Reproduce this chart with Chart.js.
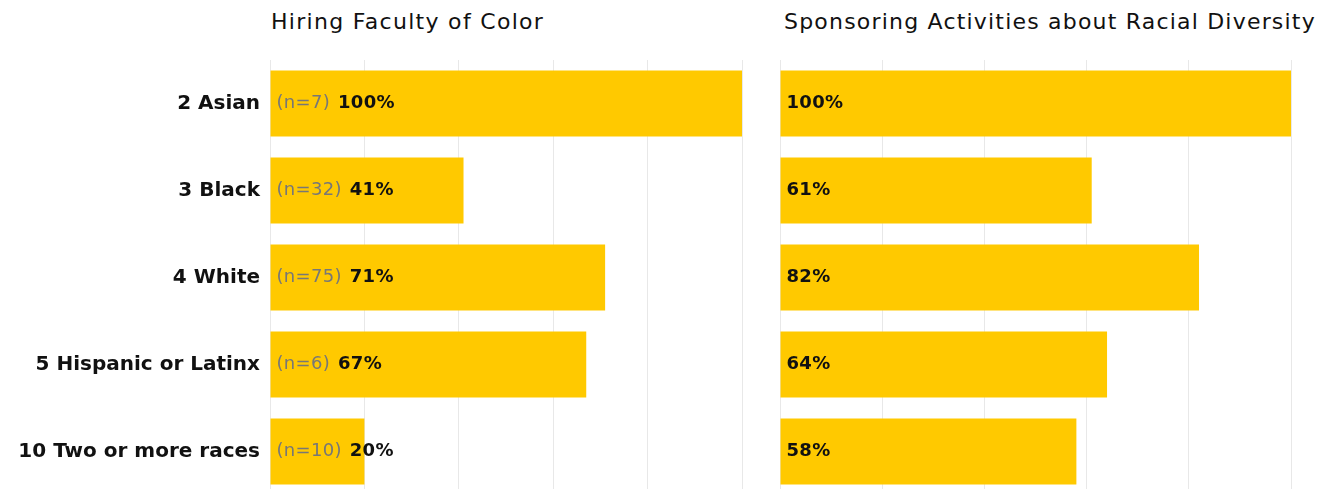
<!DOCTYPE html>
<html>
<head>
<meta charset="utf-8">
<script src="https://cdn.jsdelivr.net/npm/chart.js@4.4.1/dist/chart.umd.min.js"></script>
<style>
  body { margin: 0; background: #fff; overflow: hidden; width: 1333px; height: 489px; position: relative; }
  .box { position: absolute; top: 0; height: 495px; }
  .title { position: absolute; top: 9px; font: 22px "DejaVu Sans", sans-serif; letter-spacing: 1.3px; color: #111; white-space: nowrap; }
</style>
</head>
<body>
<div class="title" style="left:271px">Hiring Faculty of Color</div>
<div class="title" style="left:784px; letter-spacing:1.2px">Sponsoring Activities about Racial Diversity</div>
<div class="box" style="left:0; width:752px"><canvas id="hiring"></canvas></div>
<div class="box" style="left:770px; width:531px"><canvas id="sponsoring"></canvas></div>
<script>
const groups = ['2 Asian', '3 Black', '4 White', '5 Hispanic or Latinx', '10 Two or more races'];
const counts = [7, 32, 75, 6, 10];
const hiringPct = [100, 41, 71, 67, 20];
const sponsoringPct = [100, 61, 82, 64, 58];

const barColor = '#ffc900';
const labelFont = '"DejaVu Sans", sans-serif';

// draws "(n=..) xx%" inside each bar, starting at the bar's left end
const barLabels = {
  id: 'barLabels',
  afterDatasetsDraw(chart, args, opts) {
    const ctx = chart.ctx;
    const meta = chart.getDatasetMeta(0);
    ctx.save();
    ctx.letterSpacing = '0.3px';
    ctx.textBaseline = 'middle';
    ctx.textAlign = 'left';
    meta.data.forEach((bar, i) => {
      let x = bar.base + 6;
      const y = bar.y;
      if (opts.counts) {
        const nText = '(n=' + opts.counts[i] + ')';
        ctx.font = '18px ' + labelFont;
        ctx.fillStyle = '#777';
        ctx.fillText(nText, x, y);
        x += ctx.measureText(nText).width + 8;
      }
      ctx.font = 'bold 18px ' + labelFont;
      ctx.fillStyle = '#111';
      ctx.fillText(chart.data.datasets[0].data[i] + '%', x, y);
    });
    ctx.restore();
  }
};

function makeChart(el, values, showLabels, nCounts) {
  return new Chart(document.getElementById(el), {
    type: 'bar',
    data: {
      labels: groups,
      datasets: [{
        data: values,
        backgroundColor: barColor,
        barPercentage: 0.76,
        categoryPercentage: 1
      }]
    },
    options: {
      indexAxis: 'y',
      responsive: true,
      maintainAspectRatio: false,
      animation: false,
      layout: { padding: { top: 60, right: 10, bottom: 0, left: showLabels ? 0 : 10 } },
      plugins: {
        legend: { display: false },
        tooltip: { enabled: false },
        barLabels: { counts: nCounts }
      },
      scales: {
        x: {
          min: 0,
          max: 100,
          ticks: { display: false, stepSize: 20 },
          grid: { color: '#e8e8e8', drawTicks: false },
          border: { display: false }
        },
        y: {
          display: showLabels,
          grid: { display: false, drawTicks: false },
          border: { display: false },
          ticks: {
            padding: 10,
            color: '#111',
            font: { family: labelFont, size: 20, weight: 'bold' }
          },
          afterFit(scale) {
            if (showLabels) scale.width = 270;
            scale.paddingTop = 0;
            scale.paddingBottom = 0;
          }
        }
      }
    },
    plugins: [barLabels]
  });
}

makeChart('hiring', hiringPct, true, counts);
makeChart('sponsoring', sponsoringPct, false, null);
</script>
</body>
</html>
